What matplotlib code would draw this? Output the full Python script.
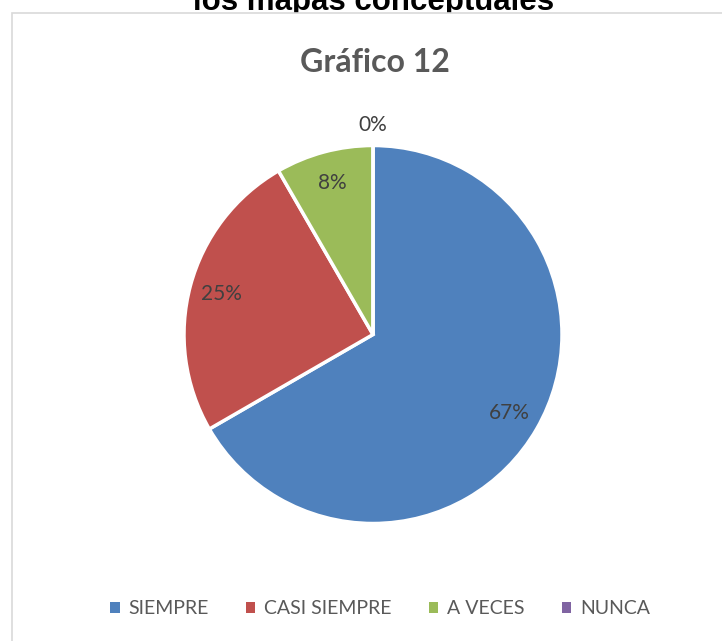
import numpy as np
import matplotlib
matplotlib.use("Agg")
import matplotlib.pyplot as plt
from matplotlib.patches import Rectangle, Patch

plt.rcParams["font.family"] = ["Lato", "DejaVu Sans"]

categories = ["SIEMPRE", "CASI SIEMPRE", "A VECES", "NUNCA"]
counts = [8, 3, 1, 0]
colors = ["#4F81BD", "#C0504D", "#9BBB59", "#8064A2"]
page_title = "los mapas conceptuales"
chart_title = "Gráfico 12"

W, H = 722, 641
fig = plt.figure(figsize=(W / 100, H / 100), dpi=100)
fig.patch.set_facecolor("white")

# heading of the document, half hidden behind the chart area
fig.text(374 / W, 1 - 10 / H, page_title, ha="center", va="baseline",
         fontsize=22.5, fontweight="bold", family=["Liberation Sans", "DejaVu Sans"],
         color="black", zorder=0.5)

# chart area frame, runs off the right and bottom edges
frame = Rectangle((12 / W, -0.1), 1.2, 1 - 13 / H + 0.1, transform=fig.transFigure,
                  facecolor="white", edgecolor="#D9D9D9", linewidth=1.2, zorder=1)
fig.add_artist(frame)

fig.text(375 / W, 1 - 62 / H, chart_title, ha="center", va="center",
         fontsize=23, fontweight="bold", color="#595959", zorder=3)

# pie axes: radius 189 px, limits +-1.25
r = 189
cx, cy = 373, 334.5
half = 1.25 * r
ax = fig.add_axes([(cx - half) / W, (H - cy - half) / H, 2 * half / W, 2 * half / H])
ax.set_zorder(2)
ax.patch.set_visible(False)

wedges, texts, autotexts = ax.pie(
    counts, colors=colors, startangle=90, counterclock=False,
    autopct="%.0f%%", pctdistance=0.83,
    wedgeprops=dict(edgecolor="white", linewidth=2.5),
    textprops=dict(fontsize=15, color="#404040"),
)
ax.set_aspect("equal")

# zero slice label sits just outside the pie
for w, t, c in zip(wedges, autotexts, counts):
    if c == 0:
        ang = np.deg2rad((w.theta1 + w.theta2) / 2)
        t.set_position((1.11 * np.cos(ang), 1.11 * np.sin(ang)))

handles = [Patch(facecolor=c, edgecolor="none") for c in colors]
leg = fig.legend(handles, categories, loc="center", bbox_to_anchor=(380 / W, 1 - 609 / H),
                 ncol=4, frameon=False, fontsize=14, handlelength=0.5, handleheight=0.5,
                 handletextpad=0.45, columnspacing=1.9, labelcolor="#595959")
leg.set_zorder(3)

fig.savefig("out.png", dpi=100)
